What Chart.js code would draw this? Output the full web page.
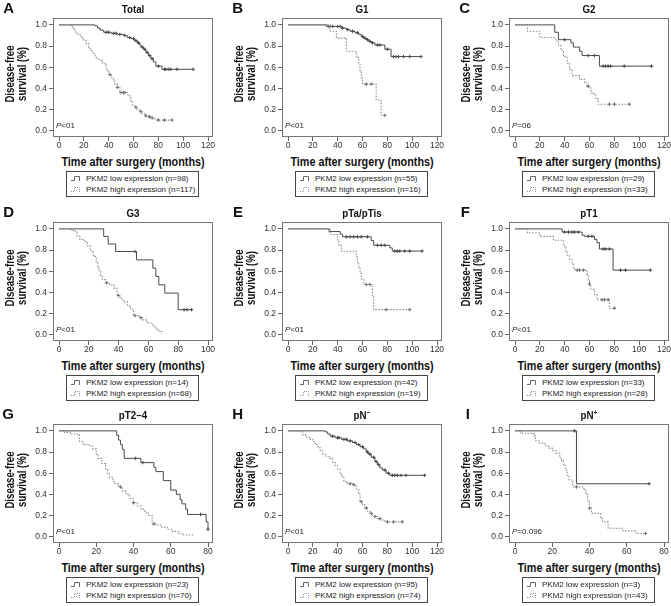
<!DOCTYPE html>
<html><head><meta charset="utf-8">
<script src="https://cdn.jsdelivr.net/npm/chart.js@4.4.1/dist/chart.umd.min.js"></script>
<style>
html,body{margin:0;padding:0;background:#fff;overflow:hidden}
#wrap{position:relative;width:671px;height:606px;overflow:hidden;font-family:"Liberation Sans",Arial,Helvetica,sans-serif;color:#111}
.panel{position:absolute;width:224px;height:200px}
.panel canvas{position:absolute;left:0;top:0}
.letter{position:absolute;left:0;top:0;width:14px;text-align:right;font-weight:bold;font-size:15px;line-height:16px}
.title{position:absolute;left:53px;width:160px;top:2px;text-align:center;font-weight:bold;font-size:11.5px;line-height:14px;transform:scaleX(0.85);white-space:nowrap}
.title sup{font-size:0.65em;line-height:0;vertical-align:0.55em}
.ytitle{position:absolute;left:-43.5px;top:62px;width:120px;height:24px;text-align:center;font-weight:bold;font-size:12px;line-height:11.5px;transform:rotate(-90deg) scaleX(0.8);white-space:nowrap}
.xtitle{position:absolute;left:13px;width:240px;top:155px;text-align:center;font-weight:bold;font-size:12px;line-height:14px;transform:scaleX(0.9);white-space:nowrap}
.pval{position:absolute;left:56px;top:120.5px;font-size:8px;line-height:10px;color:#222;white-space:nowrap}
.legend{position:absolute;left:66px;top:171px;width:133px;height:26px;box-sizing:border-box;border:1px solid #444;padding:2px 0 0 4px;font-size:8px;line-height:10.5px;color:#222;white-space:nowrap}
.legend svg{vertical-align:-1px;margin-right:6px}
</style>
</head><body><div id="wrap"></div>
<script>
const FONT = '"Liberation Sans", Arial, sans-serif';

const panelLetters = ['A','B','C','D','E','F','G','H','I'];
const panelTitles = ['Total','G1','G2','G3','pTa/pTis','pT1','pT2–4','pN<sup>−</sup>','pN<sup>+</sup>'];
const lowN  = [98, 55, 29, 14, 42, 33, 23, 95, 3];
const highN = [117, 16, 33, 68, 19, 28, 70, 74, 43];
const pLabels = ['<01','<01','=06','<01','<01','<01','<01','<01','=0.096'];

const xTicks120 = [0,20,40,60,80,100,120];
const xTicks100 = [0,20,40,60,80,100];
const xTicks80  = [0,20,40,60,80];
const panelXTicks = [xTicks120,xTicks120,xTicks120,xTicks100,xTicks120,xTicks120,xTicks80,xTicks120,xTicks80];
const yTickVals = [0,0.2,0.4,0.6,0.8,1.0];
const yTickLabels = ['0.0','0.2','0.4','0.6','0.8','1.0'];

// A Total
const aLowT = [0,29,31,33,36,42,47,52,55,58,61,63,65,66,68,70,72,74,76,78,83,108];
const aLowS = [1,0.99,0.97,0.95,0.93,0.92,0.91,0.90,0.88,0.87,0.85,0.83,0.81,0.79,0.77,0.74,0.71,0.68,0.65,0.61,0.58,0.58];
const aLowC = [38,40,44,46,49,53,57,60,62,64,67,69,71,73,75,80,85,86,88,90,95,108];
const aHighT = [0,10,11,12,13,15,17,19,20,22,24,25,27,29,30,33,35,37,38,39,40,42,44,45,47,49,55,57,58,59,61,63,65,67,69,72,74,77,79,91];
const aHighS = [1,0.99,0.97,0.95,0.93,0.91,0.89,0.875,0.85,0.82,0.79,0.76,0.73,0.70,0.68,0.66,0.64,0.62,0.59,0.56,0.53,0.50,0.47,0.44,0.41,0.36,0.34,0.31,0.28,0.24,0.22,0.20,0.18,0.16,0.14,0.13,0.12,0.11,0.10,0.10];
const aHighC = [41,47,50,52,53,62,66,70,73,75,80,85,91];
// B G1
const bLowT = [0,31,43,47,50,54,57,59,61,63,65,67,70,78,83,107];
const bLowS = [1,0.985,0.97,0.955,0.94,0.925,0.91,0.89,0.875,0.86,0.845,0.83,0.81,0.77,0.70,0.70];
const bLowC = [33,36,40,42,44,48,52,56,60,62,64,66,68,72,74,80,85,87,89,93,98,107];
const bHighT = [0,34,39,47,55,57,58,59,60,71,75,78];
const bHighS = [1,0.94,0.875,0.75,0.69,0.625,0.56,0.50,0.44,0.29,0.145,0.145];
const bHighC = [63,67,78];
// C G2
const cLowT = [0,32,35,45,47,52,54,68,110];
const cLowS = [1,0.93,0.86,0.83,0.79,0.75,0.71,0.61,0.61];
const cLowC = [40,59,64,71,73,75,77,88,110];
const cHighT = [0,10,20,33,35,37,39,42,44,46,52,56,58,61,62,65,67,92];
const cHighS = [1,0.94,0.88,0.85,0.81,0.76,0.70,0.64,0.58,0.52,0.485,0.45,0.42,0.38,0.35,0.30,0.25,0.25];
const cHighC = [59,76,80,92];
// D G3
const dLowT = [0,30,33,38,52,63,65,67,71,80,89];
const dLowS = [1,0.929,0.857,0.786,0.707,0.628,0.55,0.471,0.393,0.236,0.236];
const dLowC = [51,84,86,89];
const dHighT = [0,8,11,12,14,17,19,21,23,25,26,27,28,29,31,34,37,39,41,43,46,48,50,54,56,59,63,65,67,69];
const dHighS = [1,0.985,0.97,0.93,0.90,0.88,0.84,0.79,0.74,0.68,0.63,0.60,0.56,0.52,0.49,0.47,0.44,0.37,0.34,0.31,0.27,0.24,0.18,0.16,0.14,0.11,0.08,0.05,0.03,0.01];
const dHighC = [32,40,51,55];
// E pTa/pTis
const eLowT = [0,33,42,44,67,69,82,84,108];
const eLowS = [1,0.975,0.95,0.925,0.89,0.845,0.82,0.79,0.79];
const eLowC = [47,50,53,56,59,64,72,75,78,86,88,90,94,98,108];
const eHighT = [0,34,40,41,43,55,56,57,58,59,61,68,69,98];
const eHighS = [1,0.947,0.895,0.842,0.789,0.737,0.684,0.632,0.579,0.526,0.474,0.355,0.237,0.237];
const eHighC = [63,66,79,98];
// F pT1
const fLowT = [0,38,54,56,64,66,68,79,109];
const fLowS = [1,0.97,0.94,0.93,0.90,0.87,0.81,0.61,0.61];
const fLowC = [40,43,46,48,51,59,62,71,73,76,85,89,109];
const fHighT = [0,10,20,31,39,40,41,42,44,46,47,48,58,59,60,61,64,66,76,80];
const fHighS = [1,0.964,0.929,0.893,0.857,0.82,0.79,0.75,0.71,0.68,0.64,0.61,0.57,0.52,0.48,0.43,0.38,0.33,0.25,0.25];
const fHighC = [50,52,55,60,70,72,75,80];
// G pT2-4
const gLowT = [0,31,32,33,34,35,44,51,52,56,60,63,65,66,68,69,79,80];
const gLowS = [1,0.957,0.913,0.87,0.826,0.74,0.70,0.655,0.615,0.53,0.44,0.40,0.35,0.31,0.26,0.21,0.14,0.07];
const gLowC = [41,45,76,80];
const gHighT = [0,3,6,10,11,13,16,18,20,21,23,25,26,27,29,30,32,34,36,38,40,42,44,46,48,50,53,55,58,61,64,66,72];
const gHighS = [1,0.986,0.971,0.957,0.90,0.87,0.86,0.83,0.78,0.74,0.69,0.64,0.60,0.56,0.52,0.50,0.47,0.43,0.40,0.36,0.32,0.29,0.26,0.23,0.20,0.12,0.11,0.09,0.07,0.05,0.03,0.015,0.015];
const gHighC = [33,40,51];
// H pN-
const hLowT = [0,30,32,34,38,43,48,52,55,58,61,63,65,67,70,72,74,76,79,82,110];
const hLowS = [1,0.99,0.97,0.95,0.935,0.92,0.905,0.89,0.87,0.85,0.83,0.80,0.78,0.75,0.71,0.68,0.65,0.63,0.60,0.58,0.58];
const hLowC = [36,40,41,45,47,50,54,57,60,64,66,69,71,73,78,81,84,86,88,91,95,110];
const hHighT = [0,10,12,15,18,20,22,24,26,28,30,33,36,38,40,42,43,45,48,52,55,57,58,60,62,64,66,68,72,76,79,92];
const hHighS = [1,0.99,0.96,0.94,0.92,0.90,0.87,0.84,0.81,0.78,0.76,0.74,0.70,0.67,0.64,0.60,0.57,0.52,0.50,0.49,0.45,0.41,0.33,0.30,0.27,0.24,0.22,0.19,0.17,0.15,0.14,0.14];
const hHighC = [50,53,59,63,67,70,74,80,85,92];
// I pN+
const iLowT = [0,33,72];
const iLowS = [1,0.5,0.5];
const iLowC = [32,72];
const iHighT = [0,3,10,11,13,16,18,20,22,24,25,26,27,28,29,31,37,38,39,40,41,46,47,50,58,65,70];
const iHighS = [1,0.977,0.953,0.907,0.884,0.86,0.837,0.814,0.79,0.744,0.72,0.674,0.628,0.58,0.535,0.47,0.44,0.40,0.33,0.27,0.22,0.17,0.14,0.08,0.055,0.03,0.03];
const iHighC = [33,40,70];

const curves = [
  [aLowT,aLowS,aLowC,aHighT,aHighS,aHighC],
  [bLowT,bLowS,bLowC,bHighT,bHighS,bHighC],
  [cLowT,cLowS,cLowC,cHighT,cHighS,cHighC],
  [dLowT,dLowS,dLowC,dHighT,dHighS,dHighC],
  [eLowT,eLowS,eLowC,eHighT,eHighS,eHighC],
  [fLowT,fLowS,fLowC,fHighT,fHighS,fHighC],
  [gLowT,gLowS,gLowC,gHighT,gHighS,gHighC],
  [hLowT,hLowS,hLowC,hHighT,hHighS,hHighC],
  [iLowT,iLowS,iLowC,iHighT,iHighS,iHighC]
];

// layout (px)
const colX = [0, 229, 456];
const rowY = [0, 204, 406];
const CW = 224, CH = 152;
const AREA_L = 53, AREA_R = 213, AREA_T = 18, AREA_B = 137;
const TICK0_PX = 59, TICKN_PX = 208;

function stepAt(T, S, t) {
  let v = S[0];
  for (let k = 0; k < T.length; k++) if (T[k] <= t) v = S[k];
  return v;
}

const framePlugin = {
  id: 'frame',
  afterDatasetsDraw(chart) {
    const { ctx, chartArea: a } = chart;
    ctx.save();
    ctx.strokeStyle = '#777';
    ctx.lineWidth = 1;
    ctx.strokeRect(Math.round(a.left) + 0.5, Math.round(a.top) + 0.5,
                   Math.round(a.right - a.left) - 1, Math.round(a.bottom - a.top) - 1);
    ctx.restore();
  }
};

const legendSym = (dotted, color) =>
  `<svg width="9" height="8" viewBox="0 0 9 8"><path d="M0,6.5 H3.5 V2.5 H8.5 V7" fill="none" stroke="${color}" stroke-width="0.9" ${dotted ? 'stroke-dasharray="1,1"' : ''}/></svg>`;

const wrap = document.getElementById('wrap');

for (let i = 0; i < 9; i++) {
  const col = i % 3, row = Math.floor(i / 3);
  const div = document.createElement('div');
  div.className = 'panel';
  div.style.left = colX[col] + 'px';
  div.style.top = rowY[row] + 'px';
  wrap.appendChild(div);

  const canvas = document.createElement('canvas');
  canvas.width = CW; canvas.height = CH;
  canvas.style.width = CW + 'px'; canvas.style.height = CH + 'px';
  div.appendChild(canvas);

  div.insertAdjacentHTML('beforeend',
    `<div class="letter">${panelLetters[i]}</div>` +
    `<div class="title">${panelTitles[i]}</div>` +
    `<div class="ytitle">Disease-free<br>survival (%)</div>` +
    `<div class="xtitle">Time after surgery (months)</div>` +
    `<div class="pval"><i>P</i>${pLabels[i].replace('<','&lt;')}</div>` +
    `<div class="legend"><div>${legendSym(false,'#555')}PKM2 low expression (n=${lowN[i]})</div>` +
    `<div>${legendSym(true,'#888')}PKM2 high expression (n=${highN[i]})</div></div>`);

  const xt = panelXTicks[i];
  const last = xt[xt.length - 1];
  const ppu = (TICKN_PX - TICK0_PX) / last;
  const xMin = -(TICK0_PX - AREA_L) / ppu;
  const xMax = last + (AREA_R - TICKN_PX) / ppu;

  const [lT, lS, lC, hT, hS, hC] = curves[i];
  const datasets = [
    { data: hT.map((t, k) => ({ x: t, y: hS[k] })), showLine: true, stepped: true,
      borderColor: '#8a8a8a', borderWidth: 1.1, borderDash: [1.5, 1.5], pointRadius: 0, fill: false },
    { data: hC.map(t => ({ x: t, y: stepAt(hT, hS, t) })), showLine: false,
      pointStyle: 'cross', pointRadius: 1.7, borderColor: '#555', borderWidth: 0.9, backgroundColor: '#555' },
    { data: lT.map((t, k) => ({ x: t, y: lS[k] })), showLine: true, stepped: true,
      borderColor: '#4a4a4a', borderWidth: 1, pointRadius: 0, fill: false },
    { data: lC.map(t => ({ x: t, y: stepAt(lT, lS, t) })), showLine: false,
      pointStyle: 'cross', pointRadius: 1.7, borderColor: '#333', borderWidth: 0.9, backgroundColor: '#333' }
  ];

  new Chart(canvas.getContext('2d'), {
    type: 'scatter',
    data: { datasets },
    plugins: [framePlugin],
    options: {
      responsive: false,
      devicePixelRatio: 1,
      animation: false,
      events: [],
      layout: { padding: { left: 0, top: AREA_T, right: CW - AREA_R, bottom: 0 } },
      plugins: { legend: { display: false }, title: { display: false }, tooltip: { enabled: false } },
      scales: {
        x: {
          type: 'linear', min: xMin, max: xMax,
          afterBuildTicks: s => { s.ticks = xt.map(v => ({ value: v })); },
          afterFit: s => { s.height = CH - AREA_B; s.paddingLeft = 0; s.paddingRight = 0; },
          ticks: { font: { family: FONT, size: 8.5 }, color: '#333', padding: 0, maxRotation: 0, autoSkip: false,
                   callback: v => String(v) },
          grid: { drawOnChartArea: false, drawTicks: true, tickLength: 4, color: '#666', lineWidth: 1 },
          border: { display: false }
        },
        y: {
          type: 'linear', min: -0.06, max: 1.065,
          afterBuildTicks: s => { s.ticks = yTickVals.map(v => ({ value: v })); },
          afterFit: s => { s.width = AREA_L; s.paddingTop = 0; s.paddingBottom = 0; },
          ticks: { font: { family: FONT, size: 8.5 }, color: '#333', padding: 2, autoSkip: false,
                   callback: (v, idx) => yTickLabels[idx] },
          grid: { drawOnChartArea: false, drawTicks: true, tickLength: 4, color: '#666', lineWidth: 1 },
          border: { display: false }
        }
      }
    }
  });
}
</script>
</body></html>
